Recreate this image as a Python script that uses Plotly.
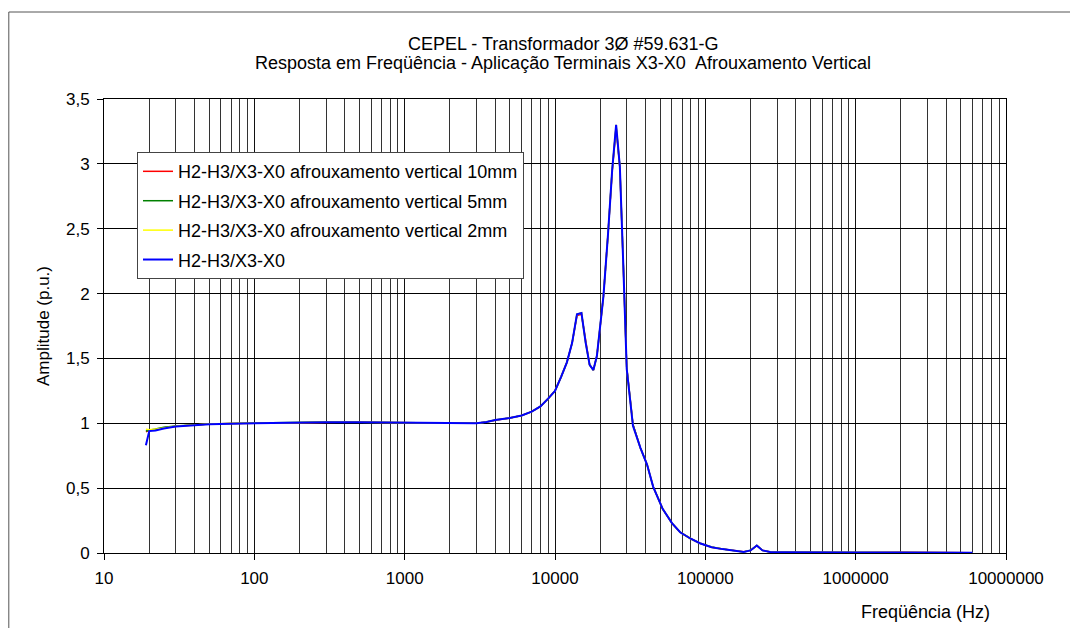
import plotly.graph_objects as go

# ---- data ----
freq = [19, 20, 22, 25, 30, 40, 50, 70, 100,
        150, 200, 300, 500, 700, 1000, 1500, 2000, 3000,
        3500, 4000, 5000, 6000, 7000, 8000, 9000, 10000,
        11000, 12000, 13000, 14000, 15000, 16000, 17000, 18000, 19000, 20000,
        21000, 22500, 24000, 25500, 27000, 28500, 30000, 33000, 37000, 41000,
        45000, 52000, 60000, 68000, 80000, 92000, 110000, 130000, 155000, 180000,
        200000, 220000, 240000, 270000, 350000, 500000, 1000000, 2000000, 4000000, 6000000]

amp_10mm = [0.935, 0.945, 0.95, 0.965, 0.978, 0.988, 0.994, 0.998, 1.0,
            1.004, 1.006, 1.008, 1.009, 1.007, 1.005, 1.003, 1.0, 1.0,
            1.01, 1.024, 1.04, 1.06, 1.09, 1.13, 1.19, 1.25,
            1.36, 1.47, 1.62, 1.83, 1.84, 1.62, 1.45, 1.41, 1.52, 1.75,
            1.98, 2.45, 2.94, 3.28, 2.97, 2.20, 1.43, 0.99, 0.81, 0.68,
            0.51, 0.34, 0.23, 0.16, 0.11, 0.075, 0.045, 0.03, 0.018, 0.009,
            0.02, 0.057, 0.021, 0.008, 0.005, 0.003, 0.004, 0.006, 0.002, 0.002]

amp_5mm = [0.94, 0.945, 0.955, 0.97, 0.98, 0.99, 0.995, 0.999, 1.002,
           1.006, 1.007, 1.009, 1.008, 1.006, 1.005, 1.002, 1.0, 1.0,
           1.01, 1.025, 1.04, 1.06, 1.09, 1.13, 1.19, 1.25,
           1.36, 1.47, 1.62, 1.84, 1.85, 1.62, 1.45, 1.41, 1.52, 1.75,
           1.98, 2.45, 2.95, 3.29, 2.98, 2.21, 1.43, 0.99, 0.81, 0.68,
           0.51, 0.34, 0.23, 0.16, 0.11, 0.075, 0.046, 0.03, 0.018, 0.008,
           0.021, 0.058, 0.02, 0.008, 0.005, 0.004, 0.003, 0.005, 0.002, 0.002]

amp_2mm = [0.955, 0.95, 0.955, 0.965, 0.977, 0.987, 0.994, 0.998, 1.001,
           1.005, 1.006, 1.008, 1.008, 1.007, 1.006, 1.003, 1.0, 1.0,
           1.01, 1.025, 1.04, 1.06, 1.09, 1.13, 1.19, 1.25,
           1.36, 1.47, 1.62, 1.84, 1.85, 1.62, 1.45, 1.41, 1.52, 1.75,
           1.98, 2.45, 2.95, 3.30, 2.98, 2.20, 1.42, 0.98, 0.81, 0.68,
           0.51, 0.34, 0.23, 0.16, 0.11, 0.075, 0.045, 0.03, 0.018, 0.008,
           0.02, 0.058, 0.02, 0.008, 0.005, 0.003, 0.003, 0.004, 0.002, 0.002]

amp_ref = [0.83, 0.94, 0.945, 0.96, 0.975, 0.985, 0.993, 0.997, 1.0,
           1.005, 1.005, 1.008, 1.008, 1.007, 1.006, 1.003, 1.0, 1.0,
           1.01, 1.025, 1.04, 1.06, 1.09, 1.13, 1.19, 1.25,
           1.36, 1.47, 1.62, 1.84, 1.85, 1.62, 1.45, 1.41, 1.52, 1.75,
           1.98, 2.45, 2.95, 3.30, 2.98, 2.20, 1.42, 0.98, 0.81, 0.68,
           0.51, 0.34, 0.23, 0.16, 0.11, 0.075, 0.045, 0.03, 0.018, 0.008,
           0.02, 0.058, 0.02, 0.008, 0.005, 0.003, 0.003, 0.004, 0.002, 0.002]

series_names = ["H2-H3/X3-X0 afrouxamento vertical 10mm",
                "H2-H3/X3-X0 afrouxamento vertical 5mm",
                "H2-H3/X3-X0 afrouxamento vertical 2mm",
                "H2-H3/X3-X0"]

x_tick_vals = [10, 100, 1000, 10000, 100000, 1000000, 10000000]
x_tick_text = ["10", "100", "1000", "10000", "100000", "1000000", "10000000"]
y_tick_vals = [0, 0.5, 1, 1.5, 2, 2.5, 3, 3.5]

title_line1 = "CEPEL - Transformador 3Ø #59.631-G"
title_line2 = "Resposta em Freqüência - Aplicação Terminais X3-X0  Afrouxamento Vertical"
x_title = "Freqüência (Hz)"
y_title = "Amplitude (p.u.)"

# ---- figure ----
FONT = "Liberation Sans, Arial, sans-serif"
colors = ["#FF0000", "#008000", "#FFFF00", "#0000FF"]
widths = [1.5, 1.5, 1.5, 2]
all_amps = [amp_10mm, amp_5mm, amp_2mm, amp_ref]

fig = go.Figure()
for i, (name, amps) in enumerate(zip(series_names, all_amps)):
    fig.add_trace(go.Scatter(x=freq, y=amps, mode="lines", name=name,
                             legendgroup=f"g{i}",
                             line=dict(color=colors[i], width=widths[i])))

minor_vals = [m * 10 ** d for d in range(1, 7) for m in range(2, 10)]

# the page body has an 8px margin; the figure is sized to compensate
fig.update_layout(
    width=1070, height=620,
    margin=dict(l=96, r=72, t=91, b=75),
    paper_bgcolor="white", plot_bgcolor="white",
    font=dict(family=FONT, size=17, color="black"),
    separators=",.",
    showlegend=True,
    legend=dict(x=0.0366, y=0.883, xanchor="left", yanchor="top",
                bgcolor="white", bordercolor="#444", borderwidth=1,
                font=dict(family=FONT, size=18, color="black"),
                tracegroupgap=3, itemwidth=30),
    xaxis=dict(type="log", range=[1, 7],
               tickmode="array", tickvals=x_tick_vals, ticktext=x_tick_text,
               ticks="outside", ticklen=6, tickcolor="black",
               ticklabelstandoff=4,
               showgrid=True, gridcolor="#111", gridwidth=1,
               minor=dict(tickmode="array", tickvals=minor_vals, showgrid=True,
                          gridcolor="#333", gridwidth=1, ticks=""),
               showline=True, linecolor="black", linewidth=1, mirror=True,
               zeroline=False),
    yaxis=dict(range=[0, 3.5], tickmode="array", tickvals=y_tick_vals,
               ticks="outside", ticklen=6, tickcolor="black",
               ticklabelstandoff=4,
               showgrid=True, gridcolor="black", gridwidth=1,
               showline=True, linecolor="black", linewidth=1, mirror=True,
               zeroline=False),
    annotations=[
        dict(text=title_line1, xref="paper", yref="paper", x=0.509, y=1.121,
             xanchor="center", yanchor="middle", showarrow=False,
             font=dict(family=FONT, size=18)),
        dict(text=title_line2, xref="paper", yref="paper", x=0.509, y=1.079,
             xanchor="center", yanchor="middle", showarrow=False,
             font=dict(family=FONT, size=18)),
        dict(text=x_title, xref="paper", yref="paper", x=(925 - 104) / 902,
             y=(553 - 612) / 454, xanchor="center", yanchor="middle",
             showarrow=False, font=dict(family=FONT, size=18)),
        dict(text=y_title, xref="paper", yref="paper", x=(43 - 104) / 902,
             y=0.5, xanchor="center", yanchor="middle", textangle=-90,
             showarrow=False, font=dict(family=FONT, size=17)),
    ],
    shapes=[
        dict(type="rect", xref="paper", yref="paper",
             x0=(8.8 - 104) / 902, x1=(1072 - 104) / 902,
             y0=(553 - 660) / 454, y1=(553 - 12) / 454,
             line=dict(color="#555", width=1), fillcolor="rgba(0,0,0,0)",
             layer="below"),
    ],
)

fig.write_html("out.html")
